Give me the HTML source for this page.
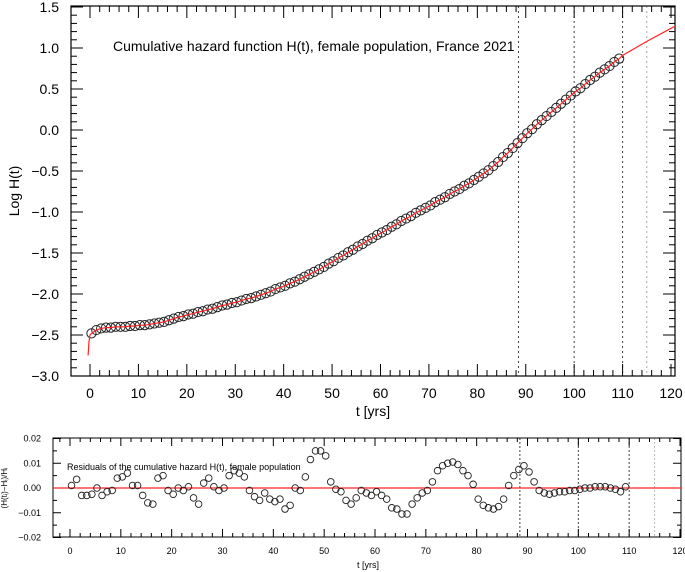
<!DOCTYPE html>
<html><head><meta charset="utf-8"><style>
html,body{margin:0;padding:0;background:#fff;}
svg{display:block;font-family:"Liberation Sans",Arial,sans-serif;}
</style></head><body>
<svg id="chart" width="685" height="572" viewBox="0 0 685 572" xmlns="http://www.w3.org/2000/svg">
<g id="topplot"></g>
<g id="botplot"></g>
</svg>
<script>
const logH = [-2.48,-2.44,-2.42,-2.41,-2.41,-2.40,-2.40,-2.40,-2.39,-2.39,-2.38,-2.38,-2.37,-2.36,-2.35,-2.34,-2.32,-2.30,-2.28,-2.27,-2.25,-2.24,-2.22,-2.21,-2.19,-2.18,-2.16,-2.14,-2.13,-2.11,-2.10,-2.08,-2.06,-2.05,-2.03,-2.01,-1.99,-1.97,-1.94,-1.92,-1.90,-1.87,-1.85,-1.82,-1.79,-1.76,-1.73,-1.70,-1.67,-1.63,-1.60,-1.56,-1.53,-1.49,-1.46,-1.42,-1.39,-1.35,-1.32,-1.28,-1.25,-1.22,-1.18,-1.15,-1.11,-1.08,-1.05,-1.01,-0.98,-0.95,-0.92,-0.88,-0.85,-0.82,-0.78,-0.75,-0.72,-0.68,-0.65,-0.61,-0.57,-0.53,-0.49,-0.44,-0.39,-0.33,-0.28,-0.22,-0.16,-0.10,-0.04,0.01,0.07,0.12,0.17,0.22,0.27,0.32,0.37,0.42,0.47,0.51,0.56,0.61,0.65,0.70,0.74,0.78,0.83,0.87];
const resid = [0.001,0.0035,-0.003,-0.003,-0.0025,0,-0.003,-0.0015,-0.001,0.004,0.0045,0.006,0.001,0.001,-0.003,-0.006,-0.0065,0.004,0.005,-0.001,-0.0025,0,-0.001,0.0005,-0.004,-0.0065,0.002,0.004,0.0005,-0.001,0,0.005,0.007,0.006,0.0045,-0.001,-0.0035,-0.005,-0.002,-0.0045,-0.0055,-0.0045,-0.0085,-0.007,0,-0.001,0.0045,0.0115,0.015,0.015,0.013,0.0025,-0.0005,-0.0015,-0.005,-0.0065,-0.004,-0.001,-0.002,-0.003,-0.0015,-0.003,-0.0045,-0.008,-0.0085,-0.0105,-0.0105,-0.0065,-0.004,-0.002,-0.001,0.0025,0.007,0.009,0.01,0.0105,0.0095,0.007,0.005,0.0015,-0.0045,-0.007,-0.008,-0.0085,-0.0075,-0.0045,0.001,0.005,0.0075,0.009,0.0065,0.0025,-0.001,-0.002,-0.0025,-0.002,-0.0015,-0.0015,-0.001,-0.001,-0.0005,0,0,0.0005,0.0005,0.0005,0,-0.0005,-0.0015,0.0005];
const fitStartT = [-0.4,-0.2,0];
const fitStartV = [-2.75,-2.58,-2.50];
const fitEndT = [110,115,120,121];
const fitEndV = [0.91,1.08,1.24,1.27];
const xTicks = [0,10,20,30,40,50,60,70,80,90,100,110,120];
const yTicksTop = [-3.0,-2.5,-2.0,-1.5,-1.0,-0.5,0.0,0.5,1.0,1.5];
const yTicksBot = [-0.02,-0.01,0.00,0.01,0.02];
const vlines = [88.5,100,110,115];

const NS="http://www.w3.org/2000/svg";
function mk(parent,tag,attrs,text){const el=document.createElementNS(NS,tag);for(const k in attrs)el.setAttribute(k,attrs[k]);if(text!==undefined)el.textContent=text;parent.appendChild(el);return el;}
const fmt1=v=>(v<0?"\u2212":"")+Math.abs(v).toFixed(1);
const fmt2=v=>(v<0?"\u2212":"")+Math.abs(v).toFixed(2);

// ---------- TOP ----------
const topG=document.getElementById('topplot');
const tp={L:71,R:675,T:6,B:376};
const tX=t=>90+t*(671-90)/120;
const tY=v=>376-(v+3)*82;
vlines.forEach((t,i)=>{const l=mk(topG,'line',{x1:tX(t),x2:tX(t),y1:tp.T,y2:tp.B,stroke:i==3?'#aaa':'#444','stroke-width':1,'stroke-dasharray':'2,3'});

});
const fr=mk(topG,'rect',{x:tp.L,y:tp.T,width:tp.R-tp.L,height:tp.B-tp.T,fill:'none',stroke:'#000','stroke-width':1.2});


for(let t=0;t<=120;t+=2){const maj=t%10==0;const x=tX(t);
 mk(topG,'line',{x1:x,x2:x,y1:tp.B,y2:tp.B-(maj?12:6),stroke:'#000'});
 mk(topG,'line',{x1:x,x2:x,y1:tp.T,y2:tp.T+(maj?12:6),stroke:'#000'});}
xTicks.forEach(t=>{const el=mk(topG,'text',{x:tX(t),y:398,'text-anchor':'middle','font-size':14},String(t));

});
for(let k=0;k<=45;k++){const v=-3+k*0.1;const maj=k%5==0;const y=tY(v);
 mk(topG,'line',{x1:tp.L,x2:tp.L+(maj?12:6),y1:y,y2:y,stroke:'#000'});
 mk(topG,'line',{x1:tp.R,x2:tp.R-(maj?12:6),y1:y,y2:y,stroke:'#000'});}
yTicksTop.forEach(v=>{const el=mk(topG,'text',{x:59,y:tY(v)+5,'text-anchor':'end','font-size':14},fmt1(v));

});
let lab;
lab=mk(topG,'text',{x:373,y:416,'text-anchor':'middle','font-size':14},'t [yrs]');


lab=mk(topG,'text',{x:19,y:191,'text-anchor':'middle','font-size':14,transform:'rotate(-90 19 191)'},'Log H(t)');


lab=mk(topG,'text',{x:113,y:51,'font-size':14},'Cumulative hazard function H(t), female population, France 2021');


logH.forEach((v,i)=>{const c=mk(topG,'circle',{cx:tX(i+0.3),cy:tY(v),r:4.6,fill:'none',stroke:'#222','stroke-width':1});

});
let pts=[];fitStartT.forEach((t,i)=>pts.push([t,fitStartV[i]]));logH.forEach((v,i)=>pts.push([i+0.3,v]));fitEndT.forEach((t,i)=>pts.push([t,fitEndV[i]]));
const fl=mk(topG,'polyline',{points:pts.map(p=>tX(p[0]).toFixed(1)+','+tY(p[1]).toFixed(1)).join(' '),fill:'none',stroke:'#f22','stroke-width':1.2});



// ---------- BOTTOM ----------
const botG=document.getElementById('botplot');
const bL=53,bR=681,bT=438,bB=537;
const bX=t=>70+t*(680-70)/120;
const bY=v=>488-v*(bB-bT)/0.04;
vlines.forEach((t,i)=>{const l=mk(botG,'line',{x1:bX(t),x2:bX(t),y1:bT,y2:bB,stroke:i==3?'#bbb':'#444','stroke-width':1,'stroke-dasharray':'2,2'});

});
lab=mk(botG,'rect',{x:bL,y:bT,width:bR-bL,height:bB-bT,fill:'none',stroke:'#000','stroke-width':1});


for(let t=-2;t<=120;t+=2){const maj=t%10==0;const x=bX(t);if(x<bL)continue;
 mk(botG,'line',{x1:x,x2:x,y1:bB,y2:bB-(maj?8:4),stroke:'#000'});
 mk(botG,'line',{x1:x,x2:x,y1:bT,y2:bT+(maj?8:4),stroke:'#000'});}
for(let k=0;k<=8;k++){const v=-0.02+k*0.005;const maj=k%2==0;const y=bY(v);
 mk(botG,'line',{x1:bL,x2:bL+(maj?8:4),y1:y,y2:y,stroke:'#000'});
 mk(botG,'line',{x1:bR,x2:bR-(maj?8:4),y1:y,y2:y,stroke:'#000'});}
xTicks.forEach(t=>{const el=mk(botG,'text',{x:bX(t),y:554,'text-anchor':'middle','font-size':9},String(t));

});
yTicksBot.forEach(v=>{const el=mk(botG,'text',{x:41,y:bY(v)+3,'text-anchor':'end','font-size':9},fmt2(v));

});
lab=mk(botG,'text',{x:368,y:568,'text-anchor':'middle','font-size':9},'t [yrs]');


lab=mk(botG,'text',{x:7,y:488,'text-anchor':'middle','font-size':8,transform:'rotate(-90 7 488)'},'(H(t\u1D62)\u2212H\u1D62)/H\u1D62');


lab=mk(botG,'text',{x:67,y:470,'font-size':9},'Residuals of the cumulative hazard H(t), female population');


lab=mk(botG,'line',{x1:bL,x2:bR,y1:bY(0),y2:bY(0),stroke:'#f22','stroke-width':1.2});


resid.forEach((v,i)=>{const c=mk(botG,'circle',{cx:bX(i+0.3),cy:bY(v),r:3.3,fill:'none',stroke:'#222','stroke-width':0.9});

});
</script>
</body></html>
